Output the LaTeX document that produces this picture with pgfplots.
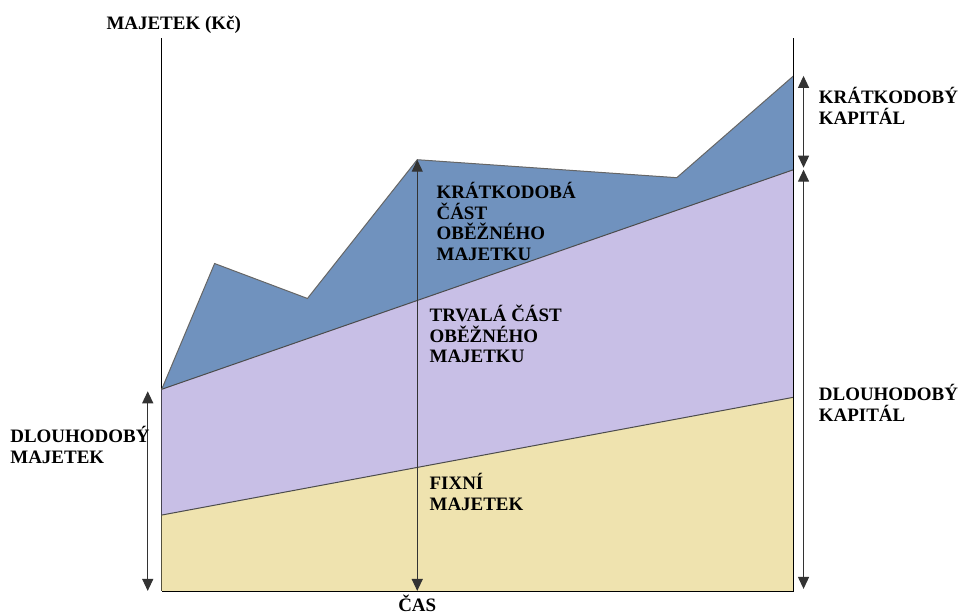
\documentclass[border=0pt]{standalone}
\usepackage{pgfplots}
\pgfplotsset{compat=1.18}
\usepackage{fontspec}
\setmainfont{Liberation Serif}
\usetikzlibrary{arrows.meta}
\definecolor{cblue}{RGB}{112,146,190}
\definecolor{cpurple}{RGB}{200,191,230}
\definecolor{cbeige}{RGB}{239,227,175}
\begin{document}
\begin{tikzpicture}[
  lbl/.style={font=\fontsize{9.5}{10.4}\selectfont\bfseries, align=left, inner sep=0pt, text=black},
  dbl/.style={{Triangle[length=6pt,width=5.5pt]}-{Triangle[length=6pt,width=5.5pt]}, black!80, line width=0.6pt}
]
\begin{axis}[
  scale only axis, width=316.5pt, height=277pt,
  xmin=0, xmax=633, ymin=0, ymax=554,
  axis lines=left, axis line style={-, black, line width=0.6pt},
  ticks=none, clip=false,
]
% bounding box to match the reference proportions
\path (axis cs:-162,-25) rectangle (axis cs:796,592);
% areas
\addplot[fill=cbeige, draw=none] coordinates {(0,0) (0,76) (633,194) (633,0)} -- cycle;
\addplot[fill=cpurple, draw=none] coordinates {(0,76) (633,194) (633,422) (0,202)} -- cycle;
\addplot[fill=cblue, draw=none] coordinates {(0,202) (53,328) (146,293) (256,432) (516,414) (633,516) (633,422)} -- cycle;
% boundary lines
\addplot[black!70, line width=0.5pt] coordinates {(0,76) (633,194)};
\addplot[black!70, line width=0.5pt] coordinates {(0,202) (633,422)};
\addplot[black!60, line width=0.5pt] coordinates {(0,202) (53,328) (146,293) (256,432) (516,414) (633,516)};
% right vertical line
\addplot[black, line width=0.6pt] coordinates {(633,0) (633,554)};
% arrows
\draw[dbl] (axis cs:-14,0) -- (axis cs:-14,200);
\draw[dbl] (axis cs:256,0) -- (axis cs:256,432);
\draw[dbl] (axis cs:643,424) -- (axis cs:643,516);
\draw[dbl] (axis cs:643,2) -- (axis cs:643,422);
% labels
\node[lbl, anchor=center] at (axis cs:12,567) {MAJETEK (Kč)};
\node[lbl, anchor=north west] at (axis cs:-152,165) {DLOUHODOBÝ\\MAJETEK};
\node[lbl, anchor=north west] at (axis cs:658,505) {KRÁTKODOBÝ\\KAPITÁL};
\node[lbl, anchor=north west] at (axis cs:658,207) {DLOUHODOBÝ\\KAPITÁL};
\node[lbl, anchor=north west] at (axis cs:275,410) {KRÁTKODOBÁ\\ČÁST\\OBĚŽNÉHO\\MAJETKU};
\node[lbl, anchor=north west] at (axis cs:268,287) {TRVALÁ ČÁST\\OBĚŽNÉHO\\MAJETKU};
\node[lbl, anchor=north west] at (axis cs:268,118) {FIXNÍ\\MAJETEK};
\node[lbl, anchor=base] at (axis cs:256,-21) {ČAS};
\end{axis}
\end{tikzpicture}
\end{document}
